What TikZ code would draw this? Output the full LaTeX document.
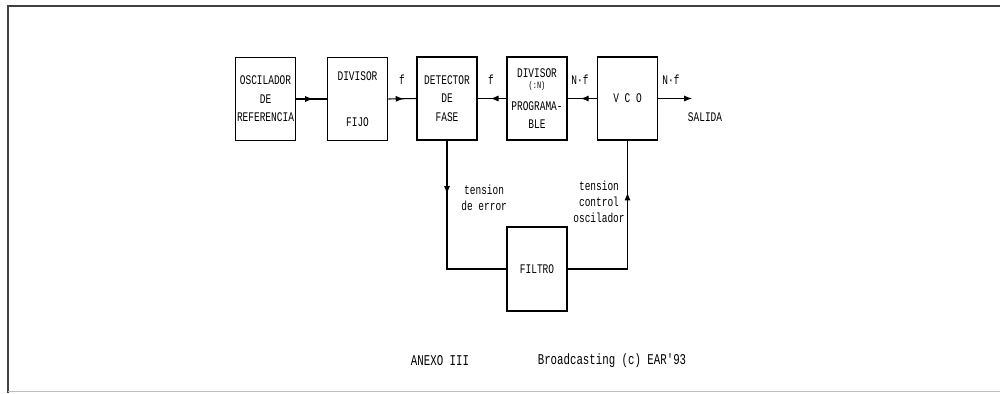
\documentclass[tikz,border=0pt]{standalone}
\usepackage{fontspec}
\setmonofont[FakeStretch=0.72]{Liberation Mono}
\usetikzlibrary{arrows.meta,decorations.markings}
\begin{document}
\begin{tikzpicture}[x=0.02cm,y=-0.02cm,
  blk/.style={draw,line width=1.1pt,minimum width=1.2cm,minimum height=1.66cm,inner sep=0pt,align=center,
     font=\ttfamily\fontsize{7.5}{10.5}\selectfont},
  conn/.style={line width=0.6pt},
  tip/.style={-{Latex[length=4.5pt,width=3.5pt]}},
  lbl/.style={font=\ttfamily\fontsize{7.5}{9}\selectfont,inner sep=0pt,align=center},
  midarrow/.style={postaction={decorate},decoration={markings,
     mark=at position #1 with {\arrow{Latex[length=4.5pt,width=3.5pt]}}}}
]
\useasboundingbox (0,0) rectangle (1000,393);
% frame
\draw[line width=0.9pt,black!75] (1000,6) -- (8,6) -- (8,393);
\draw[line width=0.5pt,black!25] (8,391) -- (1000,391);

% blocks
\node[blk] (osc) at (265.5,99) {OSCILADOR\\DE\\REFERENCIA};
\node[blk] (fijo) at (357.5,99) {DIVISOR\\[16pt]FIJO};
\node[blk] (det) at (447,98.5) {DETECTOR\\DE\\FASE};
\node[blk] (prog) at (537,98.5) {DIVISOR\\[-4.3pt]{\fontsize{5.5}{6}\selectfont(:N)}\\[2pt]PROGRAMA-\\BLE};
\node[blk] (vco) at (627.5,98.5) {V C O};
\node[blk,minimum height=1.68cm] (fil) at (537,269) {FILTRO};

% top row connectors
\draw[conn,midarrow=0.55] (osc.east) -- (fijo.west);
\draw[conn,midarrow=0.55] (fijo.east) -- (det.west);
\draw[conn,midarrow=0.55] (prog.west) -- (det.east);
\draw[conn,midarrow=0.55] (vco.west) -- (prog.east);
\coordinate (out) at (692,98.5);
\draw[conn,tip] (vco.east) -- (out);

% loop
\draw[conn,midarrow=1.06cm] (det.south) -- (det.south |- fil.west) -- (fil.west);
\draw[conn,midarrow=2.72cm] (fil.east) -- (vco.south |- fil.east) -- (vco.south);

% labels
\node[lbl] (l1) at (402,80) {f};
\node[lbl] (l2) at (491,80) {f};
\node[lbl] (l3) at (580,80) {N·f};
\node[lbl] (l4) at (671,80) {N·f};
\node[lbl] (l5) at (705,117) {SALIDA};
\node[lbl,anchor=west] (l6) at (461,197.5) {tension\\de error};
\node[lbl] (l7) at (599,202) {tension\\control\\oscilador};

% footer
\node[lbl,font=\ttfamily\fontsize{8.5}{10}\selectfont] (f1) at (440,361) {ANEXO III};
\node[lbl,font=\ttfamily\fontsize{8.5}{10}\selectfont] (f2) at (612,361) {Broadcasting (c) EAR'93};
\end{tikzpicture}
\end{document}
